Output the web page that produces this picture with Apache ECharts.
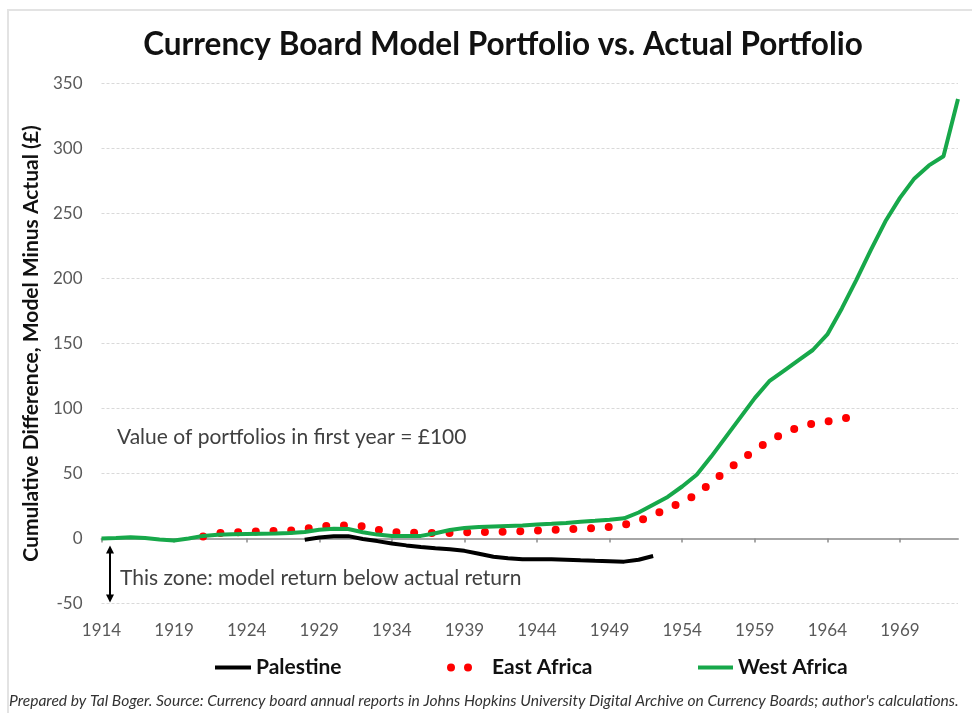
<!DOCTYPE html>
<html>
<head>
<meta charset="utf-8">
<script src="https://cdn.jsdelivr.net/npm/echarts@6/dist/echarts.min.js"></script>
<style>
  html, body { margin: 0; padding: 0; background: #fff; }
  #chart { width: 972px; height: 713px; }
</style>
</head>
<body>
<div id="chart"></div>
<script>
const years = [
  '1914','1915','1916','1917','1918','1919','1920','1921','1922','1923',
  '1924','1925','1926','1927','1928','1929','1930','1931','1932','1933',
  '1934','1935','1936','1937','1938','1939','1940','1941','1942','1943',
  '1944','1945','1946','1947','1948','1949','1950','1951','1952','1953',
  '1954','1955','1956','1957','1958','1959','1960','1961','1962','1963',
  '1964','1965','1966','1967','1968','1969','1970','1971','1972','1973'
]

// West Africa, 1914-1973
const westAfrica = [
  0, 0.3, 1, 0.3, -0.8, -1.5, 0, 2, 2.8, 3.2,
  3.4, 3.6, 3.8, 4.2, 5, 6.8, 7.5, 7.3, 4.8, 3,
  2, 1.9, 2, 4, 6.5, 8, 8.8, 9.3, 9.7, 10,
  10.7, 11.3, 12, 12.8, 13.6, 14.5, 15.5, 20, 26, 32,
  40, 49, 63, 78, 93, 108, 121, 129, 137, 145,
  157, 177, 199, 222, 244, 262, 277, 287, 294, 338
]

// East Africa, 1921-1966
const eastAfricaStart = '1921'
const eastAfrica = [
  1.5, 4, 4.8, 5, 5.5, 5.8, 6, 7.4, 9.3, 10,
  10, 9.4, 6.8, 5, 4.4, 4.3, 4.3, 4.3, 4.7, 5,
  5.1, 5.3, 5.6, 6.2, 6.6, 7.1, 7.6, 8, 8.8, 10.5,
  13.5, 18, 23, 28, 34, 43, 52, 60, 68, 75,
  81, 85.5, 88.5, 90, 92, 94.5
]

// Palestine, 1928-1952
const palestineStart = '1928'
const palestine = [
  -1, 0.8, 1.8, 1.8, -0.4, -2, -3.8, -5.3, -6.6, -7.5,
  -8.3, -9.5, -11.7, -14, -15.2, -16, -16, -16, -16.3, -16.8,
  -17.2, -17.5, -17.8, -16.3, -13.5
]

const yTicks = { min: -50, max: 350, interval: 50 }

// 把起始年之前/之后补 null，对齐类目轴
function pad(start, values) {
  const i0 = years.indexOf(start)
  return years.map((y, i) => (i >= i0 && i - i0 < values.length) ? values[i - i0] : null)
}

const FONT = 'Lato'
const GREEN = '#17a84a'
const RED = '#ff0000'
const legendText = { fontFamily: FONT, fontSize: 21, fontWeight: 'bold', color: '#111' }

const chart = echarts.init(document.getElementById('chart'))

chart.setOption({
  animation: false,
  backgroundColor: '#fff',
  textStyle: { fontFamily: FONT },
  title: {
    text: 'Currency Board Model Portfolio vs. Actual Portfolio',
    left: 498,
    textAlign: 'center',
    top: 24,
    textStyle: { fontFamily: FONT, fontSize: 31.5, fontWeight: 'bold', color: '#111' }
  },
  grid: { left: 101.5, right: 14, top: 83.5, height: 520, containLabel: false },
  xAxis: {
    type: 'category',
    data: years,
    boundaryGap: false,
    axisLine: { lineStyle: { color: '#a6a6a6', width: 2 } },
    axisTick: { interval: 4, length: 4, lineStyle: { color: '#8c8c8c', width: 1.5 } },
    axisLabel: { interval: 4, margin: 19, fontSize: 17, color: '#595959', fontFamily: FONT }
  },
  yAxis: {
    type: 'value',
    min: yTicks.min,
    max: yTicks.max,
    interval: yTicks.interval,
    name: 'Cumulative Difference, Model Minus Actual (£)',
    nameLocation: 'middle',
    nameGap: 56,
    nameTextStyle: { fontFamily: FONT, fontSize: 21, fontWeight: 'bold', color: '#111' },
    axisLine: { show: false },
    axisTick: { show: false },
    axisLabel: { margin: 19, fontSize: 17, color: '#595959', fontFamily: FONT },
    splitLine: { lineStyle: { color: '#d9d9d9', type: [3, 2], width: 1 } }
  },
  legend: [
    {
      left: 210, top: 652,
      icon: 'rect', itemWidth: 36, itemHeight: 4,
      data: [{ name: 'Palestine', itemStyle: { color: '#000' } }],
      textStyle: legendText
    },
    {
      left: 442, top: 652,
      icon: 'path://M0,4a4,4 0 1,0 8,0a4,4 0 1,0 -8,0M17,4a4,4 0 1,0 8,0a4,4 0 1,0 -8,0',
      itemWidth: 25, itemHeight: 8,
      data: [{ name: 'East Africa', itemStyle: { color: RED } }],
      textStyle: Object.assign({}, legendText, { padding: [0, 0, 0, 15] })
    },
    {
      left: 693, top: 652,
      icon: 'rect', itemWidth: 35, itemHeight: 4,
      data: [{ name: 'West Africa', itemStyle: { color: GREEN } }],
      textStyle: legendText
    }
  ],
  series: [
    {
      name: 'West Africa',
      type: 'line',
      data: westAfrica,
      showSymbol: false,
      symbol: 'none',
      lineStyle: { color: GREEN, width: 4 },
      itemStyle: { color: GREEN },
      z: 3
    },
    {
      name: 'East Africa',
      type: 'line',
      data: pad(eastAfricaStart, eastAfrica),
      showSymbol: false,
      symbol: 'none',
      lineStyle: { color: RED, width: 8, type: [0, 17.7], cap: 'round' },
      itemStyle: { color: RED },
      z: 2
    },
    {
      name: 'Palestine',
      type: 'line',
      data: pad(palestineStart, palestine),
      showSymbol: false,
      symbol: 'none',
      lineStyle: { color: '#000', width: 4 },
      itemStyle: { color: '#000' },
      z: 4
    }
  ]
})

// 注释：双向箭头 + 文字
const top0 = chart.convertToPixel({ xAxisIndex: 0, yAxisIndex: 0 }, ['1914', 0])
const bot0 = chart.convertToPixel({ xAxisIndex: 0, yAxisIndex: 0 }, ['1914', -50])
const ax = top0[0] + 8.5
const ay0 = top0[1] + 7
const ay1 = bot0[1] - 1

chart.setOption({
  graphic: [
    {
      type: 'rect', silent: true,
      shape: { x: 8, y: 10, width: 980, height: 720 },
      style: { fill: 'none', stroke: '#e3e3e3', lineWidth: 2 }
    },
    {
      type: 'line', silent: true,
      shape: { x1: ax, y1: ay0 + 6, x2: ax, y2: ay1 - 6 },
      style: { stroke: '#000', lineWidth: 2 }
    },
    {
      type: 'polygon', silent: true,
      shape: { points: [[ax, ay0], [ax - 4, ay0 + 8], [ax + 4, ay0 + 8]] },
      style: { fill: '#000' }
    },
    {
      type: 'polygon', silent: true,
      shape: { points: [[ax, ay1], [ax - 4, ay1 - 8], [ax + 4, ay1 - 8]] },
      style: { fill: '#000' }
    },
    {
      type: 'text', silent: true,
      style: {
        x: 117, y: 437, verticalAlign: 'middle',
        text: 'Value of portfolios in first year = £100', fontFamily: FONT, fontSize: 21, fill: '#404040'
      }
    },
    {
      type: 'text', silent: true,
      style: {
        x: 120, y: 578, verticalAlign: 'middle',
        text: 'This zone: model return below actual return', fontFamily: FONT, fontSize: 21, fill: '#404040'
      }
    },
    {
      type: 'text', silent: true,
      style: {
        x: 9, y: 701, verticalAlign: 'middle',
        text: "Prepared by Tal Boger. Source: Currency board annual reports in Johns Hopkins University Digital Archive on Currency Boards; author's calculations.",
        fontFamily: FONT, fontSize: 15.6, fontStyle: 'italic', fill: '#333'
      }
    }
  ]
})
</script>
</body>
</html>
